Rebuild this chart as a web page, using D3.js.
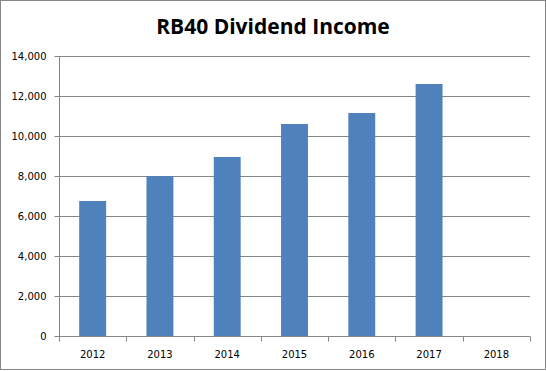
<!DOCTYPE html>
<html>
<head>
<meta charset="utf-8">
<script src="https://cdnjs.cloudflare.com/ajax/libs/d3/7.8.5/d3.min.js"></script>
<style>
    body { margin: 0; background: #fff; }
    svg text { fill: #000; }
</style>
</head>
<body>
<div id="chart"></div>
<script>
; (function () {

    // chart data
    var years = ["2012", "2013", "2014", "2015", "2016", "2017", "2018"]
    var income = [6750, 7990, 8950, 10600, 11150, 12600, null]
    var yTicks = [0, 2000, 4000, 6000, 8000, 10000, 12000, 14000]
    var title = "RB40 Dividend Income"

    var W = 546, H = 371
    var margin = { top: 56, right: 16, bottom: 35, left: 59 }
    var width = W - margin.left - margin.right,
        height = H - margin.top - margin.bottom

    var svg = d3.select("#chart").append("svg").attr("width", W).attr("height", H)

    // outer frame
    svg.append("rect")
        .attr("x", 0.5).attr("y", 0.5)
        .attr("width", W - 1).attr("height", H - 2)
        .attr("fill", "#fff").attr("stroke", "#868686")

    svg.append("text")
        .attr("x", 273).attr("y", 34)
        .attr("text-anchor", "middle")
        .style("font-family", "'Open Sans', sans-serif")
        .style("font-weight", "bold")
        .style("font-size", "21px")
        .text(title)

    var g = svg.append("g").attr("transform", "translate(" + margin.left + "," + margin.top + ")")

    var x = d3.scaleBand()
        .domain(years)
        .range([0, width])
        .paddingInner(0.6)
        .paddingOuter(0.3)

    var y = d3.scaleLinear()
        .domain([0, 14000])
        .range([height, 0])

    // gridlines
    g.selectAll(".grid")
        .data(yTicks.slice(1))
        .enter().append("line")
        .attr("x1", 0).attr("x2", width)
        .attr("y1", function (d) { return Math.round(y(d)) + 0.5 })
        .attr("y2", function (d) { return Math.round(y(d)) + 0.5 })
        .attr("stroke", "#868686")

    g.selectAll(".bar")
        .data(years.map(function (yr, i) { return { year: yr, value: income[i] } }).filter(function (d) { return d.value != null }))
        .enter().append("rect")
        .attr("class", "bar")
        .attr("fill", "#4F81BD")
        .attr("x", function (d) { return x(d.year) })
        .attr("y", function (d) { return y(d.value) })
        .attr("width", x.bandwidth())
        .attr("height", function (d) { return height - y(d.value) })

    var yAxis = g.append("g")
        .attr("transform", "translate(0.5,0)")
        .call(d3.axisLeft(y).tickValues(yTicks).tickSize(5).tickPadding(8).tickFormat(d3.format(",")))

    // x axis: ticks on band boundaries
    var xAxis = g.append("g").attr("transform", "translate(0," + (height + 0.5) + ")")
    xAxis.append("line").attr("x1", 0).attr("x2", width).attr("stroke", "#868686")
    xAxis.selectAll(".xt")
        .data(years.concat(["end"]))
        .enter().append("line")
        .attr("x1", function (d, i) { return Math.round(i * x.step()) + 0.5 })
        .attr("x2", function (d, i) { return Math.round(i * x.step()) + 0.5 })
        .attr("y1", 0).attr("y2", 5)
        .attr("stroke", "#868686")
    xAxis.selectAll(".xl")
        .data(years)
        .enter().append("text")
        .attr("x", function (d) { return x(d) + x.bandwidth() / 2 })
        .attr("y", 21)
        .attr("text-anchor", "middle")
        .style("font-family", "'DejaVu Sans', sans-serif")
        .style("font-size", "10px")
        .text(function (d) { return d })

    yAxis.select(".domain").attr("stroke", "#868686").attr("d", "M0," + height + "V0")
    yAxis.selectAll(".tick line").attr("stroke", "#868686")
    yAxis.selectAll(".tick text")
        .style("font-family", "'DejaVu Sans', sans-serif")
        .style("font-size", "10px")

})();
</script>
</body>
</html>
